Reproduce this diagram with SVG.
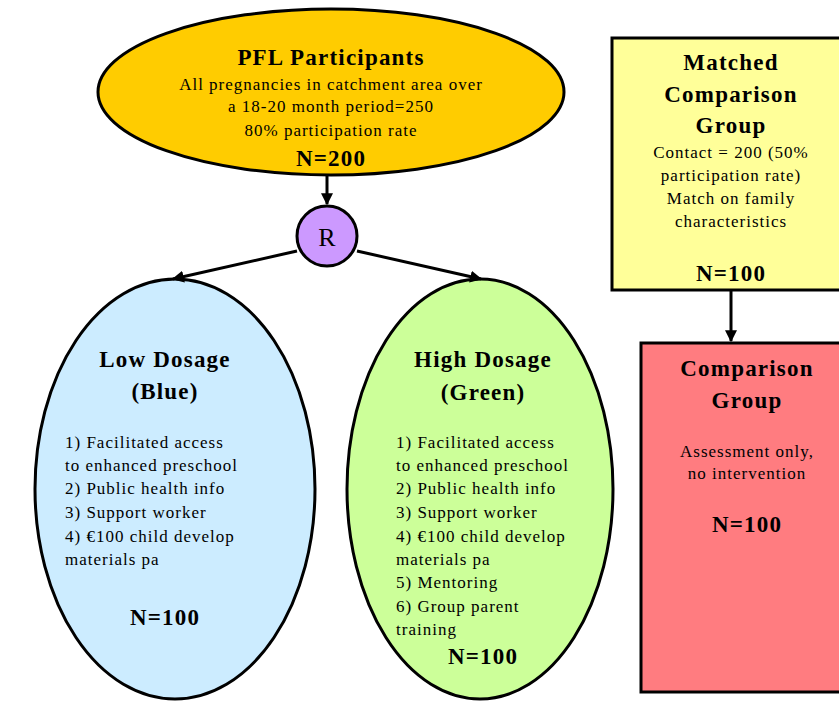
<svg xmlns="http://www.w3.org/2000/svg" width="839" height="702" viewBox="0 0 839 702">
<defs>
<marker id="ah" viewBox="0 0 10 10" refX="9" refY="5" markerWidth="4" markerHeight="4" orient="auto" markerUnits="strokeWidth">
<path d="M0,0 L10,5 L0,10 z" fill="#000"/>
</marker>
<style>
.t{font-family:"Liberation Serif","Times New Roman",serif;fill:#000}
.h{font-size:23px;font-weight:bold;text-anchor:middle;letter-spacing:1.2px}
.b{font-size:17px;text-anchor:middle;letter-spacing:1px}
.l{font-size:17px;letter-spacing:1px}
.s{stroke:#000;stroke-width:3}
.c{stroke:#000;stroke-width:3;fill:none;marker-end:url(#ah)}
</style>
</defs>
<rect width="839" height="702" fill="#fff"/>
<g id="pfl">
<ellipse class="s" cx="331" cy="92" rx="233" ry="83" fill="#FFCC00"/>
<text class="t h" x="331" y="65">PFL Participants</text>
<text class="t b" x="331" y="90">All pregnancies in catchment area over</text>
<text class="t b" x="331" y="112">a 18-20 month period=250</text>
<text class="t b" x="331" y="136">80% participation rate</text>
<text class="t h" x="331" y="166">N=200</text>
</g>
<g id="r">
<circle class="s" cx="327" cy="236" r="30" fill="#CC99FF"/>
<text class="t" x="327" y="246" font-size="26" text-anchor="middle">R</text>
</g>
<g id="low">
<ellipse class="s" cx="175" cy="489" rx="140" ry="210" fill="#CCECFF"/>
<text class="t h" x="165" y="367">Low Dosage</text>
<text class="t h" x="165" y="399">(Blue)</text>
<text class="t l" x="65" y="448">1) Facilitated access</text>
<text class="t l" x="65" y="471">to enhanced preschool</text>
<text class="t l" x="65" y="494">2) Public health info</text>
<text class="t l" x="65" y="518">3) Support worker</text>
<text class="t l" x="65" y="542">4) €100 child develop</text>
<text class="t l" x="65" y="565">materials pa</text>
<text class="t h" x="165" y="625">N=100</text>
</g>
<g id="high">
<ellipse class="s" cx="480" cy="489" rx="133" ry="210" fill="#CCFF99"/>
<text class="t h" x="483" y="367">High Dosage</text>
<text class="t h" x="483" y="400">(Green)</text>
<text class="t l" x="396" y="448">1) Facilitated access</text>
<text class="t l" x="396" y="471">to enhanced preschool</text>
<text class="t l" x="396" y="494">2) Public health info</text>
<text class="t l" x="396" y="518">3) Support worker</text>
<text class="t l" x="396" y="542">4) €100 child develop</text>
<text class="t l" x="396" y="565">materials pa</text>
<text class="t l" x="396" y="588">5) Mentoring</text>
<text class="t l" x="396" y="612">6) Group parent</text>
<text class="t l" x="396" y="635">training</text>
<text class="t h" x="483" y="664">N=100</text>
</g>
<g id="matched">
<rect class="s" x="612" y="38" width="240" height="252" fill="#FFFF99"/>
<text class="t h" x="731" y="70">Matched</text>
<text class="t h" x="731" y="102">Comparison</text>
<text class="t h" x="731" y="133">Group</text>
<text class="t b" x="731" y="158">Contact = 200 (50%</text>
<text class="t b" x="731" y="181">participation rate)</text>
<text class="t b" x="731" y="204">Match on family</text>
<text class="t b" x="731" y="227">characteristics</text>
<text class="t h" x="731" y="281">N=100</text>
</g>
<g id="comparison">
<rect class="s" x="641" y="343" width="210" height="349" fill="#FF7C80"/>
<text class="t h" x="747" y="376">Comparison</text>
<text class="t h" x="747" y="408">Group</text>
<text class="t b" x="747" y="457">Assessment only,</text>
<text class="t b" x="747" y="479">no intervention</text>
<text class="t h" x="747" y="532">N=100</text>
</g>
<g id="connectors">
<line class="c" x1="327" y1="176" x2="327" y2="204"/>
<line class="c" x1="297" y1="251" x2="173" y2="279"/>
<line class="c" x1="357" y1="251" x2="481" y2="279"/>
<line class="c" x1="731" y1="291" x2="731" y2="341"/>
</g>
</svg>
